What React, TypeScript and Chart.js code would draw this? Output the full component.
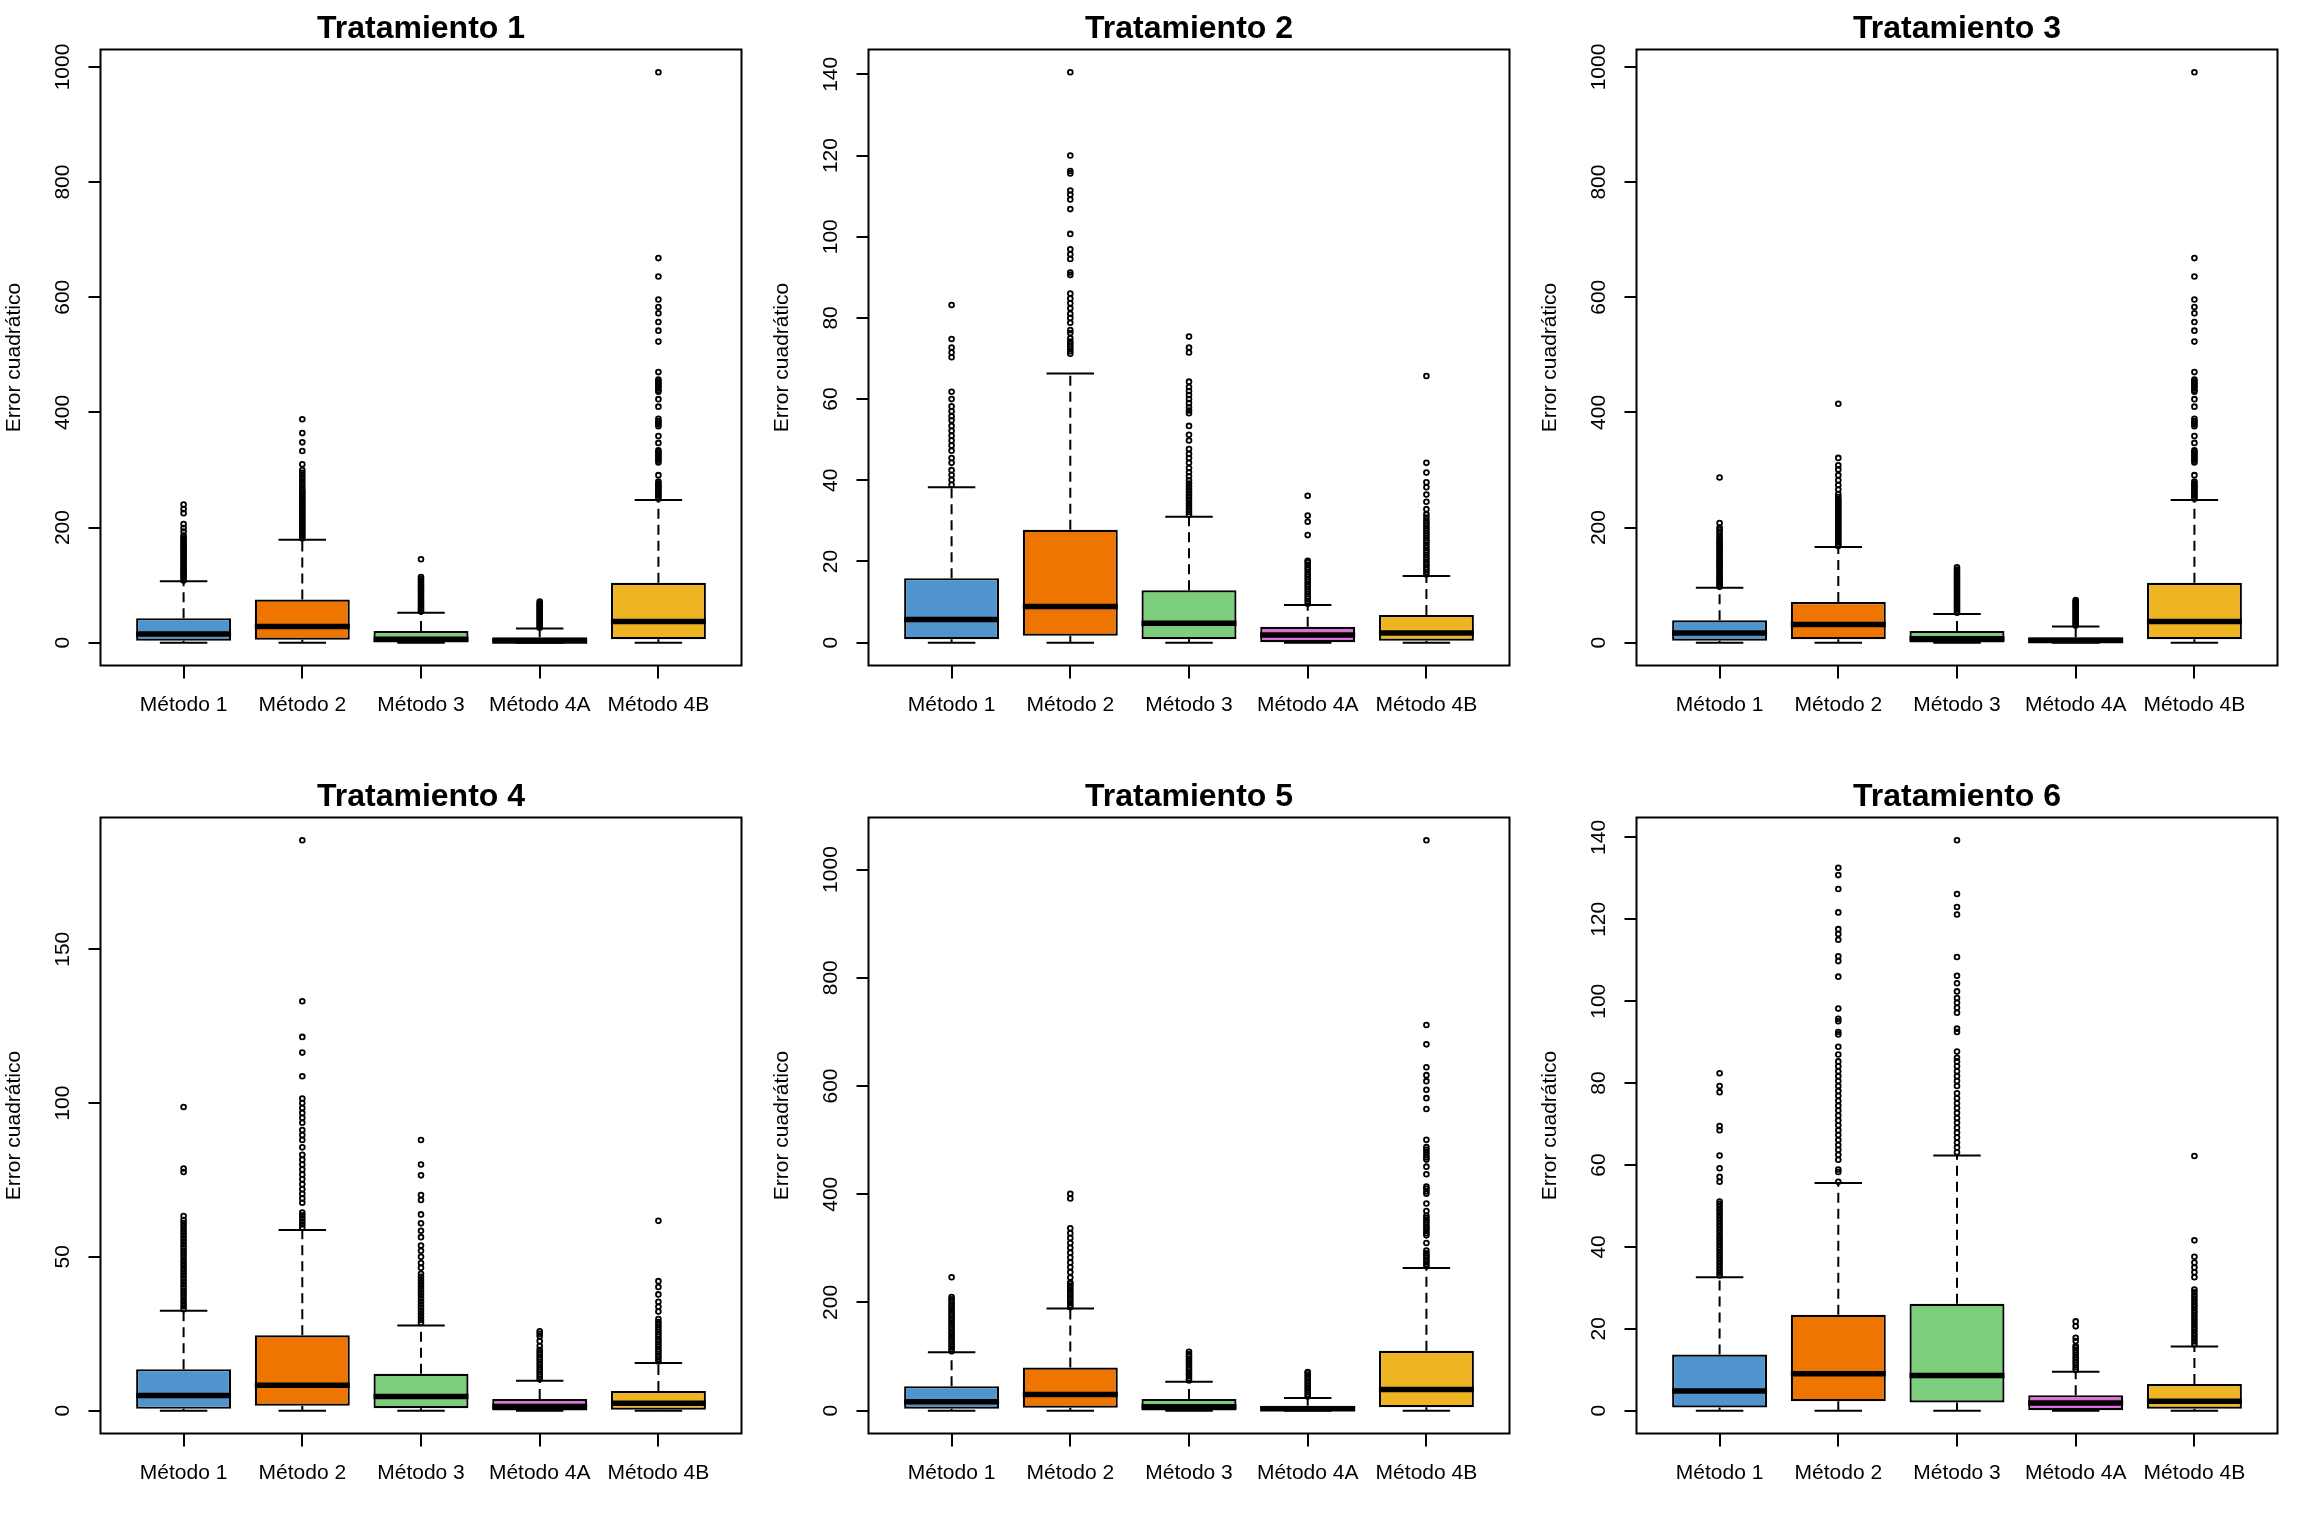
import React, { useEffect, useRef } from 'react';
import { Chart, registerables } from 'chart.js';

Chart.register(...registerables);

const FONT = '"Liberation Sans", Arial, Helvetica, sans-serif';

const methods = ['Método 1', 'Método 2', 'Método 3', 'Método 4A', 'Método 4B'];
const boxColors = ['#4F94CD', '#EE7600', '#7CCD7C', '#DA70D6', '#EEB422'];
const panelTitles = ['Tratamiento 1', 'Tratamiento 2', 'Tratamiento 3', 'Tratamiento 4', 'Tratamiento 5', 'Tratamiento 6'];
const yAxisTitle = 'Error cuadrático';

// y tick labels per panel
const yTicksT1 = [0, 200, 400, 600, 800, 1000];
const yTicksT2 = [0, 20, 40, 60, 80, 100, 120, 140];
const yTicksT3 = [0, 200, 400, 600, 800, 1000];
const yTicksT4 = [0, 50, 100, 150];
const yTicksT5 = [0, 200, 400, 600, 800, 1000];
const yTicksT6 = [0, 20, 40, 60, 80, 100, 120, 140];

// box stats per method: [lower whisker, Q1, median, Q3, upper whisker]
const statsT1 = [
  [0, 3.4, 15.3, 42.6, 106.5],
  [0, 5, 28, 75, 179],
  [0, 0.5, 6, 20.4, 52],
  [0, 0.2, 3, 9.4, 24.7],
  [0, 6, 36.6, 104, 248],
];
const statsT2 = [
  [0, 0.85, 5.7, 15.9, 38.3],
  [0, 1.7, 8.9, 27.8, 66.3],
  [0, 0.85, 4.8, 12.9, 31],
  [0, 0.1, 1.9, 3.9, 9.3],
  [0, 0.5, 2.4, 6.8, 16.4],
];
const statsT3 = [
  [0, 3.4, 17, 39, 95.4],
  [0, 6, 31.5, 70.7, 166],
  [0, 0.5, 7, 20.4, 50],
  [0, 0.2, 4, 9.4, 28],
  [0, 6, 36.6, 104, 248],
];
const statsT4 = [
  [0, 0.6, 4.9, 13.5, 32.5],
  [0, 1.6, 8.3, 24.5, 58.7],
  [0, 0.8, 4.6, 12, 27.7],
  [0, 0.1, 1.4, 3.8, 9.7],
  [0, 0.3, 2.4, 6.4, 15.5],
];
const statsT5 = [
  [0, 3.6, 16.3, 45.3, 108],
  [0, 5.4, 30, 79.8, 188.6],
  [0, 0.5, 7.3, 21.8, 53.5],
  [0, 0.2, 3.6, 9, 23.6],
  [0, 6.3, 39, 110.6, 263.8],
];
const statsT6 = [
  [0, 0.8, 4.8, 13.7, 32.6],
  [0, 2.3, 9, 23.4, 55.6],
  [0, 2, 8.6, 26.1, 62.3],
  [0, 0.1, 1.9, 3.8, 9.5],
  [0, 0.5, 2.3, 6.5, 15.7],
];

// outliers per method
const outliersT1 = [
  [108, 111, 114, 117, 120, 123, 126, 129, 132, 135, 138, 141, 144, 147, 150, 153, 156, 159, 162, 165, 168, 171, 174, 177, 180, 183, 186, 193, 199, 206, 225, 232, 240],
  [181, 184, 187, 190, 193, 196, 199, 202, 205, 208, 211, 214, 217, 220, 223, 226, 229, 232, 235, 238, 241, 244, 247, 250, 253, 256, 259, 262, 265, 270, 275, 280, 285, 290, 295, 300, 310, 333, 348, 364, 388],
  [54, 57, 60, 63, 66, 69, 72, 75, 78, 81, 84, 87, 90, 93, 96, 99, 102, 105, 108, 111, 114, 145],
  [26, 28.5, 31, 33.5, 36, 38.5, 41, 43.5, 46, 48.5, 51, 53.5, 56, 58.5, 61, 63.5, 66, 68.5, 71.5],
  [250, 253, 256, 259, 262, 265, 268, 271, 274, 277, 280, 291, 313, 316, 319, 322, 325, 328, 331, 334, 347, 359, 376, 379, 382, 385, 389, 410, 423, 436, 439, 442, 445, 448, 451, 454, 457, 470, 523, 542, 557, 572, 583, 596, 636, 668, 990.7],
];
const outliersT2 = [
  [38.9, 40.1, 41.3, 42.5, 44.3, 45.5, 47.3, 48.6, 49.8, 51, 52.2, 53.4, 54.8, 55.8, 57, 58.2, 60, 61.8, 70.3, 71.5, 72.7, 74.8, 83.2],
  [71.2, 71.8, 72.4, 73, 73.6, 74.2, 75, 76.3, 77, 78.8, 80, 81, 82.4, 83.6, 84.8, 86, 90.6, 91.2, 94.5, 95.7, 96.9, 100.7, 106.8, 109.2, 110.4, 111.4, 115.6, 116.2, 120, 140.5],
  [31.5, 32.2, 32.9, 33.6, 34.3, 35, 35.7, 36.4, 37.1, 37.8, 38.5, 39.2, 40, 41, 42, 43, 44.3, 45.5, 46.5, 47.7, 49.8, 51.2, 53.4, 56.5, 57.2, 58, 59, 60, 61, 62, 63, 64.3, 71.5, 72.7, 75.4],
  [9.6, 10.2, 10.8, 11.4, 12, 12.6, 13.2, 13.8, 14.4, 15, 15.6, 16.2, 16.8, 17.4, 18, 18.6, 19.2, 19.8, 20.2, 26.5, 29.8, 31.3, 36.2],
  [16.8, 17.4, 18, 18.6, 19.2, 19.8, 20.4, 21, 21.6, 22.2, 22.8, 23.4, 24, 24.6, 25.2, 25.8, 26.4, 27, 27.6, 28.2, 28.8, 29.4, 30, 30.8, 31.6, 32.9, 34.7, 36.5, 38.3, 39.5, 41.9, 44.3, 65.7],
];
const outliersT3 = [
  [97, 100, 103, 106, 109, 112, 115, 118, 121, 124, 127, 130, 133, 136, 139, 142, 145, 148, 151, 154, 157, 160, 163, 166, 169, 172, 175, 178, 181, 185, 189, 193, 197, 200, 208, 287],
  [168, 171, 174, 177, 180, 183, 186, 189, 192, 195, 198, 201, 204, 207, 210, 213, 216, 219, 222, 225, 228, 231, 234, 237, 240, 243, 246, 249, 253, 258, 266, 274, 282, 291, 301, 308, 321, 415],
  [52, 55, 58, 61, 64, 67, 70, 73, 76, 79, 82, 85, 88, 91, 94, 97, 100, 103, 106, 109, 112, 115, 118, 121, 124, 127, 131],
  [30, 32.5, 35, 37.5, 40, 42.5, 45, 47.5, 50, 52.5, 55, 57.5, 60, 62.5, 65, 67.5, 70, 72, 74],
  [250, 253, 256, 259, 262, 265, 268, 271, 274, 277, 280, 291, 313, 316, 319, 322, 325, 328, 331, 334, 347, 359, 376, 379, 382, 385, 389, 410, 423, 436, 439, 442, 445, 448, 451, 454, 457, 470, 523, 542, 557, 572, 583, 596, 636, 668, 990.7],
];
const outliersT4 = [
  [33, 34, 35, 36, 37, 38, 39, 40, 41, 42, 43, 44, 45, 46, 47, 48, 49, 50, 51, 52, 53, 54, 55, 56, 57, 58, 59, 60, 61, 62, 63.3, 77.6, 78.7, 98.7],
  [59.5, 60.5, 61.5, 62.5, 63.5, 64.4, 67.6, 69, 70.5, 72, 73.6, 75.2, 76.8, 78.4, 80, 81.6, 83.2, 85.6, 88, 89.6, 91.2, 93.6, 95.2, 96.8, 98.4, 100, 101.5, 108.7, 116.4, 121.5, 133.1, 185.4],
  [28.5, 29.5, 30.5, 31.5, 32.5, 33.5, 34.5, 35.5, 36.5, 37.5, 38.5, 39.5, 40.5, 41.5, 42.5, 43.5, 44.5, 46.5, 48, 50, 52, 53.7, 56.4, 58.5, 60.9, 63.8, 68.5, 70.1, 76.5, 80, 88],
  [10.3, 11, 11.8, 12.6, 13.4, 14.2, 15, 15.8, 16.6, 17.4, 18.2, 19, 19.8, 21, 22.6, 24.2, 25, 25.8],
  [16, 16.8, 17.6, 18.4, 19.2, 20, 20.8, 21.6, 22.4, 23.2, 24, 24.8, 25.6, 26.4, 27.2, 28, 28.8, 29.8, 32.2, 33.8, 35.4, 37.8, 40.2, 42.1, 61.7],
];
const outliersT5 = [
  [110, 114, 118, 122, 126, 130, 134, 138, 142, 146, 150, 154, 158, 162, 166, 170, 174, 178, 182, 186, 190, 194, 198, 202, 206, 210, 246.6],
  [191, 195, 199, 203, 207, 211, 215, 219, 223, 227, 231, 235, 237, 246, 256, 265, 274, 283, 292, 301, 310, 319, 328, 337, 392, 401],
  [56, 60, 64, 68, 72, 76, 80, 84, 88, 92, 96, 100, 104, 109],
  [26, 30, 34, 38, 42, 46, 50, 54, 58, 62, 66, 70, 71.6],
  [267, 271, 275, 279, 283, 287, 291, 296, 310, 324, 328, 332, 336, 340, 344, 348, 352, 356, 360, 369, 383, 401, 405, 410, 414, 437, 451, 464, 468, 472, 477, 482, 487, 500.5, 557.6, 577.5, 593, 609, 620, 634.6, 677, 712.6, 1054],
];
const outliersT6 = [
  [33, 33.7, 34.4, 35.1, 35.8, 36.5, 37.2, 37.9, 38.6, 39.3, 40, 40.7, 41.4, 42.1, 42.8, 43.5, 44.2, 44.9, 45.6, 46.3, 47, 47.7, 48.4, 49.1, 49.8, 50.5, 51.1, 55.9, 57.1, 59.2, 62.3, 68.5, 69.5, 77.8, 79.3, 82.4],
  [55.9, 58.3, 58.9, 61.3, 62.5, 63.7, 64.9, 66.1, 67.3, 68.5, 69.7, 70.9, 72.1, 73.3, 74.5, 75.7, 76.9, 78.1, 79.3, 80.5, 81.7, 82.9, 84.1, 85.3, 87, 88.9, 91.9, 92.5, 95.1, 95.7, 98.2, 106, 109.8, 111, 115, 116.4, 117.6, 121.7, 127.4, 130.8, 132.6],
  [63.1, 64.3, 65.5, 66.7, 67.9, 69.1, 70.3, 71.5, 72.7, 73.9, 75.1, 76.3, 77.5, 79.3, 80.5, 81.7, 82.9, 84.1, 85.3, 86.2, 87.7, 92.5, 93.3, 97.2, 98.4, 99.6, 100.8, 102.4, 104.4, 106.2, 110.8, 121.2, 123, 126.2, 139.3],
  [10, 10.6, 11.2, 11.8, 12.4, 13, 13.6, 14.2, 14.8, 15.4, 15.8, 17, 17.8, 20.6, 21.8],
  [16.2, 16.9, 17.6, 18.3, 19, 19.7, 20.4, 21.1, 21.8, 22.5, 23.2, 23.9, 24.6, 25.3, 26, 26.7, 27.4, 28.1, 28.9, 29.6, 32.6, 33.8, 35, 36.2, 37.6, 41.6, 62.2],
];

const panels = [
  { title: panelTitles[0], stats: statsT1, outliers: outliersT1, yTicks: yTicksT1 },
  { title: panelTitles[1], stats: statsT2, outliers: outliersT2, yTicks: yTicksT2 },
  { title: panelTitles[2], stats: statsT3, outliers: outliersT3, yTicks: yTicksT3 },
  { title: panelTitles[3], stats: statsT4, outliers: outliersT4, yTicks: yTicksT4 },
  { title: panelTitles[4], stats: statsT5, outliers: outliersT5, yTicks: yTicksT5 },
  { title: panelTitles[5], stats: statsT6, outliers: outliersT6, yTicks: yTicksT6 },
];

const PANEL = 768;

function BoxPanel({ title, stats, outliers, yTicks }: { title: string; stats: number[][]; outliers: number[][]; yTicks: number[] }) {
  const ref = useRef<HTMLCanvasElement | null>(null);

  useEffect(() => {
    const canvas = ref.current;
    if (!canvas) return;
    const all = stats.flat().concat(outliers.flat());
    const dMax = Math.max(...all);
    const dMin = Math.min(...all);
    const span = dMax - dMin;
    const yMin = dMin - 0.04 * span;
    const yMax = dMax + 0.04 * span;

    const boxPlugin = {
      id: 'boxExtras',
      beforeDatasetsDraw(chart: any) {
        const ctx = chart.ctx;
        const ys = chart.scales.y;
        const meta = chart.getDatasetMeta(0);
        ctx.save();
        ctx.strokeStyle = '#000';
        ctx.lineWidth = 2;
        stats.forEach((s, i) => {
          const bar = meta.data[i];
          if (!bar) return;
          const x = bar.x;
          const half = bar.width / 4;
          ctx.setLineDash([10, 6]);
          ctx.beginPath();
          ctx.moveTo(x, ys.getPixelForValue(s[3]));
          ctx.lineTo(x, ys.getPixelForValue(s[4]));
          ctx.moveTo(x, ys.getPixelForValue(s[1]));
          ctx.lineTo(x, ys.getPixelForValue(s[0]));
          ctx.stroke();
          ctx.setLineDash([]);
          ctx.beginPath();
          ctx.moveTo(x - half, ys.getPixelForValue(s[4]));
          ctx.lineTo(x + half, ys.getPixelForValue(s[4]));
          ctx.moveTo(x - half, ys.getPixelForValue(s[0]));
          ctx.lineTo(x + half, ys.getPixelForValue(s[0]));
          ctx.stroke();
        });
        ctx.restore();
      },
      afterDatasetDraw(chart: any, args: any) {
        if (args.index !== 0) return;
        const ctx = chart.ctx;
        const ys = chart.scales.y;
        const meta = chart.getDatasetMeta(0);
        ctx.save();
        ctx.strokeStyle = '#000';
        ctx.lineWidth = 5.5;
        ctx.lineCap = 'butt';
        stats.forEach((s, i) => {
          const bar = meta.data[i];
          if (!bar) return;
          const y = ys.getPixelForValue(s[2]);
          ctx.beginPath();
          ctx.moveTo(bar.x - bar.width / 2, y);
          ctx.lineTo(bar.x + bar.width / 2, y);
          ctx.stroke();
        });
        ctx.restore();
      },
      afterDraw(chart: any) {
        const ctx = chart.ctx;
        const a = chart.chartArea;
        const ys = chart.scales.y;
        ctx.save();
        ctx.strokeStyle = '#000';
        ctx.lineWidth = 2;
        ctx.strokeRect(a.left, a.top, a.right - a.left, a.bottom - a.top);
        ctx.fillStyle = '#000';
        ctx.font = `21px ${FONT}`;
        ctx.textAlign = 'center';
        ctx.textBaseline = 'middle';
        ys.ticks.forEach((t: any) => {
          const y = ys.getPixelForValue(t.value);
          ctx.save();
          ctx.translate(a.left - 37, y);
          ctx.rotate(-Math.PI / 2);
          ctx.fillText(String(t.value), 0, 0);
          ctx.restore();
        });
        ctx.restore();
      },
    };

    const chart = new Chart(canvas, {
      type: 'bar',
      data: {
        datasets: [
          {
            type: 'bar',
            data: stats.map((s, i) => ({ x: i + 1, y: [s[1], s[3]] })),
            backgroundColor: boxColors,
            borderColor: '#000',
            borderWidth: 2.2,
            borderSkipped: false,
            barPercentage: 0.8,
            categoryPercentage: 1,
          },
          {
            type: 'scatter',
            data: outliers.flatMap((arr, i) => arr.map((v) => ({ x: i + 1, y: v }))),
            pointStyle: 'circle',
            pointRadius: 2.4,
            pointBorderWidth: 1.8,
            pointBorderColor: '#000',
            pointBackgroundColor: 'rgba(255,255,255,0)',
            showLine: false,
          },
        ],
      } as any,
      options: {
        animation: false,
        responsive: false,
        maintainAspectRatio: false,
        devicePixelRatio: 1,
        events: [],
        layout: { padding: { left: 0, top: 0, right: 26.5, bottom: 0 } },
        plugins: {
          legend: { display: false },
          tooltip: { enabled: false },
          title: {
            display: true,
            text: title,
            fullSize: false,
            color: '#000',
            font: { family: FONT, size: 32, weight: 'bold', lineHeight: 1.2 },
            padding: { top: 9.5, bottom: 1.6 },
          },
        },
        scales: {
          x: {
            type: 'linear',
            offset: false,
            min: 0.3,
            max: 5.7,
            afterBuildTicks: (axis: any) => {
              axis.ticks = methods.map((_, i) => ({ value: i + 1 }));
            },
            afterFit: (scale: any) => {
              scale.height = 102.5;
            },
            ticks: {
              autoSkip: false,
              maxRotation: 0,
              minRotation: 0,
              color: '#000',
              padding: 14,
              font: { family: FONT, size: 21 },
              callback: (v: any) => methods[Math.round(Number(v)) - 1] ?? '',
            },
            grid: {
              offset: false,
              drawOnChartArea: false,
              drawTicks: true,
              tickLength: 13,
              color: '#000',
              lineWidth: 2,
            },
            border: { display: false },
          },
          y: {
            type: 'linear',
            min: yMin,
            max: yMax,
            afterBuildTicks: (axis: any) => {
              axis.ticks = yTicks.map((v) => ({ value: v }));
            },
            afterFit: (scale: any) => {
              scale.width = 100.5;
            },
            ticks: {
              color: 'rgba(0,0,0,0)',
              font: { family: FONT, size: 21 },
            },
            grid: {
              drawOnChartArea: false,
              drawTicks: true,
              tickLength: 12,
              color: '#000',
              lineWidth: 2,
            },
            border: { display: false },
            title: {
              display: true,
              text: yAxisTitle,
              color: '#000',
              font: { family: FONT, size: 21, lineHeight: 1.2 },
              padding: { top: 2, bottom: 0 },
            },
          },
        },
      } as any,
      plugins: [boxPlugin],
    });

    return () => {
      chart.destroy();
    };
  }, [title, stats, outliers, yTicks]);

  return (
    <div style={{ width: PANEL, height: PANEL, position: 'relative' }}>
      <canvas ref={ref} width={PANEL} height={PANEL} style={{ width: PANEL, height: PANEL, display: 'block' }} />
    </div>
  );
}

export default function App() {
  return (
    <div
      style={{
        position: 'absolute',
        left: 0,
        top: 0,
        width: PANEL * 3,
        height: PANEL * 2,
        background: '#ffffff',
        display: 'grid',
        gridTemplateColumns: `${PANEL}px ${PANEL}px ${PANEL}px`,
        gridTemplateRows: `${PANEL}px ${PANEL}px`,
      }}
    >
      {panels.map((p) => (
        <BoxPanel key={p.title} title={p.title} stats={p.stats} outliers={p.outliers} yTicks={p.yTicks} />
      ))}
    </div>
  );
}
